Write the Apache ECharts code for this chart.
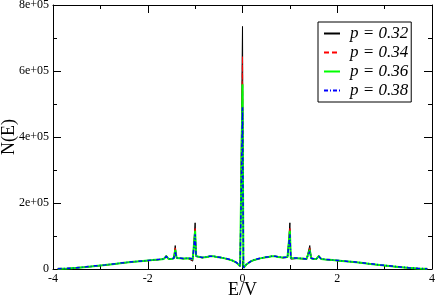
<!DOCTYPE html>
<html>
<head>
<meta charset="utf-8">
<script src="https://cdn.jsdelivr.net/npm/echarts@6/dist/echarts.min.js"></script>
<style>
html,body{margin:0;padding:0;background:#fff;}
#c{width:436px;height:299px;}
</style>
</head>
<body>
<div id="c"></div>
<script>
var seriesNames = ['p = 0.32', 'p = 0.34', 'p = 0.36', 'p = 0.38'];
var yTickLabels = ['0', '2e+05', '4e+05', '6e+05', '8e+05'];

var energy = [
  -3.9, -3.7, -3.5, -3.3, -3.1, -2.9, -2.7, -2.5, -2.3, -2.1, -1.9, -1.75, -1.66, -1.61, -1.56, -1.5, -1.45, -1.42, -1.39, -1.35,
  -1.25, -1.15, -1.05, -1.02, -1.0, -0.98, -0.95, -0.85, -0.75, -0.69, -0.65, -0.61, -0.55, -0.45, -0.35, -0.25, -0.18, -0.12, -0.08, -0.05, -0.02,
  0,
  0.02, 0.05, 0.08, 0.12, 0.18, 0.25, 0.35, 0.45, 0.55, 0.61, 0.65, 0.69, 0.75, 0.85, 0.95, 0.98, 1.0, 1.02, 1.05, 1.15,
  1.25, 1.35, 1.39, 1.42, 1.45, 1.5, 1.56, 1.61, 1.66, 1.75, 1.9, 2.1, 2.3, 2.5, 2.7, 2.9, 3.1, 3.3, 3.5, 3.7, 3.9
];

var dos032 = [
  300, 1200, 3000, 5500, 8500, 1.15e4, 1.5e4, 1.85e4, 2.15e4, 2.4e4, 2.65e4, 2.85e4, 3.0e4, 4.1e4, 3.0e4, 3.0e4, 3.2e4, 7.1e4, 3.3e4, 2.9e4,
  3.1e4, 3.2e4, 2.4e4, 3.0e4, 1.40e5, 3.8e4, 3.5e4, 3.4e4, 3.6e4, 3.8e4, 4.3e4, 3.8e4, 3.6e4, 3.4e4, 3.1e4, 2.7e4, 2.3e4, 1.8e4, 1.3e4, 8e3, 3e3,
  7.35e5,
  3e3, 8e3, 1.3e4, 1.8e4, 2.3e4, 2.7e4, 3.1e4, 3.4e4, 3.6e4, 3.8e4, 4.4e4, 3.8e4, 3.6e4, 3.4e4, 3.5e4, 3.8e4, 1.40e5, 3.0e4, 2.4e4, 3.2e4,
  3.1e4, 2.9e4, 3.3e4, 7.1e4, 3.2e4, 3.0e4, 3.0e4, 4.1e4, 3.0e4, 2.85e4, 2.65e4, 2.4e4, 2.15e4, 1.85e4, 1.5e4, 1.15e4, 8500, 5500, 3000, 1200, 300
];

var dos034 = [
  400, 1400, 3300, 5800, 8800, 1.18e4, 1.52e4, 1.87e4, 2.17e4, 2.42e4, 2.67e4, 2.87e4, 3.0e4, 4.0e4, 3.0e4, 3.0e4, 3.2e4, 6.4e4, 3.3e4, 2.95e4,
  3.1e4, 3.2e4, 2.6e4, 3.1e4, 1.27e5, 3.8e4, 3.5e4, 3.4e4, 3.6e4, 3.8e4, 4.2e4, 3.8e4, 3.6e4, 3.4e4, 3.1e4, 2.7e4, 2.3e4, 1.8e4, 1.3e4, 8e3, 3e3,
  6.45e5,
  3e3, 8e3, 1.3e4, 1.8e4, 2.3e4, 2.7e4, 3.1e4, 3.4e4, 3.6e4, 3.8e4, 4.3e4, 3.8e4, 3.6e4, 3.4e4, 3.5e4, 3.8e4, 1.27e5, 3.1e4, 2.6e4, 3.2e4,
  3.1e4, 2.95e4, 3.3e4, 6.4e4, 3.2e4, 3.0e4, 3.0e4, 4.0e4, 3.0e4, 2.87e4, 2.67e4, 2.42e4, 2.17e4, 1.87e4, 1.52e4, 1.18e4, 8800, 5800, 3300, 1400, 400
];

var dos036 = [
  600, 1700, 3600, 6200, 9200, 1.22e4, 1.55e4, 1.9e4, 2.2e4, 2.45e4, 2.7e4, 2.9e4, 3.05e4, 3.9e4, 3.05e4, 3.05e4, 3.25e4, 5.8e4, 3.35e4, 3.0e4,
  3.15e4, 3.25e4, 3.0e4, 3.3e4, 1.16e5, 3.9e4, 3.6e4, 3.5e4, 3.65e4, 3.85e4, 4.2e4, 3.85e4, 3.65e4, 3.45e4, 3.15e4, 2.75e4, 2.35e4, 1.85e4, 1.35e4, 8500, 3500,
  5.6e5,
  3500, 8500, 1.35e4, 1.85e4, 2.35e4, 2.75e4, 3.15e4, 3.45e4, 3.65e4, 3.85e4, 4.3e4, 3.85e4, 3.65e4, 3.5e4, 3.6e4, 3.9e4, 1.16e5, 3.3e4, 3.0e4, 3.25e4,
  3.15e4, 3.0e4, 3.35e4, 5.8e4, 3.25e4, 3.05e4, 3.05e4, 3.9e4, 3.05e4, 2.9e4, 2.7e4, 2.45e4, 2.2e4, 1.9e4, 1.55e4, 1.22e4, 9200, 6200, 3600, 1700, 600
];

var dos038 = [
  700, 1900, 3900, 6500, 9500, 1.25e4, 1.58e4, 1.92e4, 2.22e4, 2.47e4, 2.72e4, 2.92e4, 3.08e4, 3.8e4, 3.08e4, 3.08e4, 3.28e4, 5.3e4, 3.38e4, 3.05e4,
  3.2e4, 3.3e4, 3.1e4, 3.4e4, 1.05e5, 3.9e4, 3.6e4, 3.5e4, 3.7e4, 3.9e4, 4.1e4, 3.9e4, 3.7e4, 3.5e4, 3.2e4, 2.8e4, 2.4e4, 1.9e4, 1.4e4, 9000, 4000,
  4.9e5,
  4000, 9000, 1.4e4, 1.9e4, 2.4e4, 2.8e4, 3.2e4, 3.5e4, 3.7e4, 3.9e4, 4.2e4, 3.9e4, 3.7e4, 3.5e4, 3.6e4, 3.9e4, 1.05e5, 3.4e4, 3.1e4, 3.3e4,
  3.2e4, 3.05e4, 3.38e4, 5.3e4, 3.28e4, 3.08e4, 3.08e4, 3.8e4, 3.08e4, 2.92e4, 2.72e4, 2.47e4, 2.22e4, 1.92e4, 1.58e4, 1.25e4, 9500, 6500, 3900, 1900, 700
];

var allValues = [dos032, dos034, dos036, dos038];
var lineStyles = [
  {color: '#000000', width: 1, type: 'solid'},
  {color: '#ff0000', width: 1, type: [5, 3]},
  {color: '#00ff00', width: 2, type: 'solid'},
  {color: '#0000ff', width: 1.5, type: [4, 2, 1, 2]}
];

function pairs(xs, ys) {
  var out = [];
  for (var i = 0; i < xs.length; i++) out.push([xs[i], ys[i]]);
  return out;
}

var FONT = 'Liberation Serif';
var axisCommon = {
  type: 'value',
  nameMoveOverlap: false,
  axisLine: {show: true, onZero: false, lineStyle: {color: '#000', width: 1}},
  axisTick: {show: true, inside: true, length: 8, lineStyle: {color: '#000', width: 1}},
  minorTick: {show: true, splitNumber: 2, length: 4, lineStyle: {color: '#000', width: 1}},
  splitLine: {show: false},
  minorSplitLine: {show: false}
};
function ax(extra) { return Object.assign({}, JSON.parse(JSON.stringify(axisCommon)), extra); }

var chart = echarts.init(document.getElementById('c'), null, {renderer: 'canvas'});
chart.setOption({
  animation: false,
  backgroundColor: '#ffffff',
  textStyle: {fontFamily: FONT},
  grid: {left: 53, right: 4, top: 5, bottom: 30, containLabel: false, outerBoundsMode: 'none'},
  xAxis: [
    ax({position: 'bottom', min: -4, max: 4, interval: 2,
      name: 'E/V', nameLocation: 'middle', nameGap: 12,
      nameTextStyle: {fontFamily: FONT, fontSize: 18, color: '#000'},
      axisLabel: {show: true, margin: 4, fontFamily: FONT, fontSize: 12, color: '#000'}}),
    ax({position: 'top', min: -4, max: 4, interval: 2, axisLabel: {show: false}})
  ],
  yAxis: [
    ax({position: 'left', min: 0, max: 8e5, interval: 2e5,
      name: 'N(E)', nameLocation: 'middle', nameGap: 35, nameRotate: 90,
      nameTextStyle: {fontFamily: FONT, fontSize: 18, color: '#000'},
      axisLabel: {show: true, margin: 4, fontFamily: FONT, fontSize: 12, color: '#000',
        formatter: function (v) { return yTickLabels[Math.round(v / 2e5)]; }}}),
    ax({position: 'right', min: 0, max: 8e5, interval: 2e5, axisLabel: {show: false}})
  ],
  legend: {
    show: true,
    orient: 'vertical',
    left: 318,
    top: 22,
    width: 92,
    padding: [3, 3, 3, 5],
    itemWidth: 16,
    itemHeight: 14,
    itemGap: 2,
    borderColor: '#000',
    borderWidth: 1,
    borderRadius: 0,
    backgroundColor: '#fff',
    itemStyle: {opacity: 0},
    data: seriesNames,
    textStyle: {fontFamily: FONT, fontStyle: 'italic', fontSize: 17, color: '#000', padding: [0, 0, 0, 5]}
  },
  series: seriesNames.map(function (name, i) {
    return {
      name: name,
      type: 'line',
      xAxisIndex: 0,
      yAxisIndex: 0,
      symbol: 'none',
      showSymbol: false,
      lineStyle: lineStyles[i],
      itemStyle: {color: lineStyles[i].color},
      data: pairs(energy, allValues[i]),
      z: 2 + i
    };
  })
});
</script>
</body>
</html>
